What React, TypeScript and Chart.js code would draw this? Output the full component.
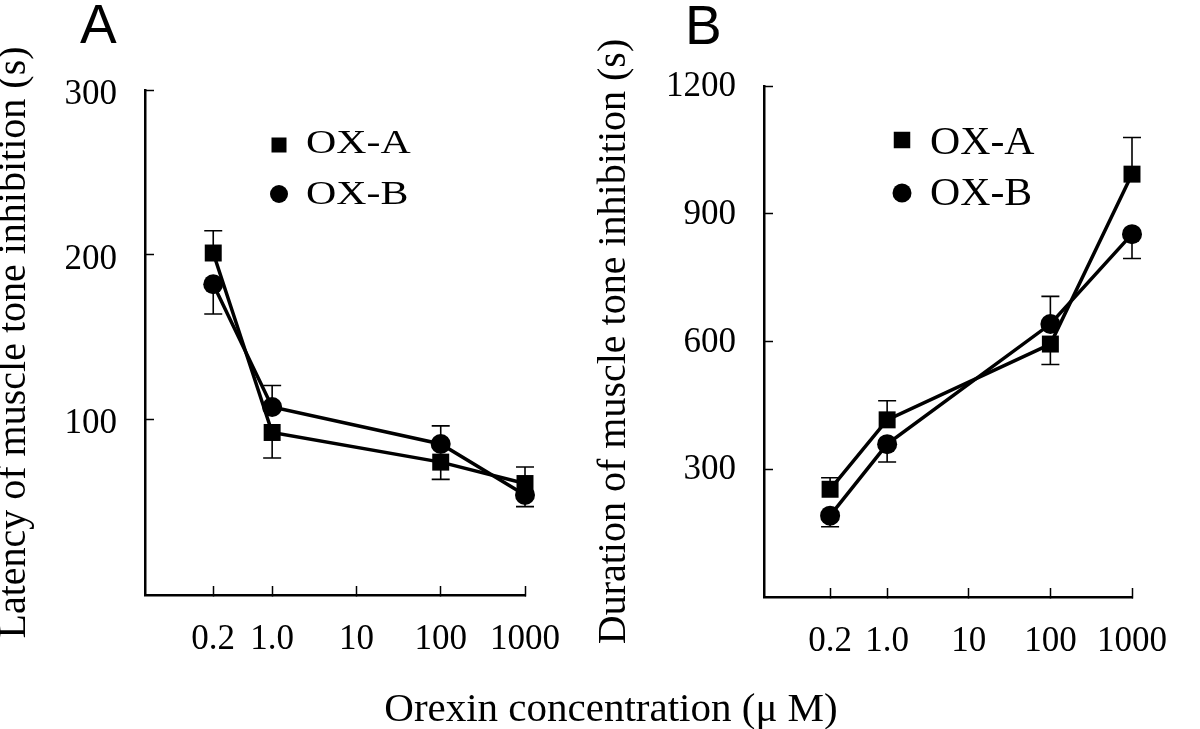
import { useEffect, useRef } from 'react';
import { Chart, registerables } from 'chart.js';

Chart.register(...registerables);

// ---- data ----
const concentrations = [0.2, 1, 100, 1000];
const xTickValues = [0.2, 1, 10, 100, 1000];
const xTickLabels = ['0.2', '1.0', '10', '100', '1000'];

const latencyOXA = [201, 92, 74, 61];
const latencyOXAErr = [13.5, 15.5, 10.5, 10];
const latencyOXB = [182, 107.5, 85, 54];
const latencyOXBErr = [18, 13, 11, 7];
const latencyTicks = [100, 200, 300];

const durationOXA = [253, 416, 594, 993];
const durationOXAErr = [27, 45, 48, 86];
const durationOXB = [191, 359, 641, 852];
const durationOXBErr = [26, 42, 65, 57];
const durationTicks = [300, 600, 900, 1200];

const seriesNames = ['OX-A', 'OX-B'];
const panelLetters = ['A', 'B'];
const yTitles = ['Latency of muscle tone inhibition (s)', 'Duration of muscle tone inhibition (s)'];
const xTitle = 'Orexin concentration (\u03bc M)';

const SERIF = "'Liberation Serif', 'Times New Roman', serif";
const SANS = "'Liberation Sans', Arial, sans-serif";

type Panel = {
  letter: string;
  letterX: number;
  letterY: number;
  yTitle: string;
  a: number[];
  aErr: number[];
  b: number[];
  bErr: number[];
  yTicks: number[];
  yMin: number;
  yMax: number;
  padding: { left: number; top: number; right: number; bottom: number };
  yWidth: number;
  xHeight: number;
  labelOffset: number;
  legendX: number;
  legendTextX: number;
  legendRows: number[];
  legendMarkerRows: number[];
  legendFont: number;
  legendScaleX: number;
  squareSize: number;
  circleR: number;
  drawXTitle: boolean;
};

const makeErrorPlugin = () => ({
  id: 'errorBars',
  afterDatasetsDraw(chart: any) {
    const { ctx, scales } = chart;
    const xs = scales.x;
    const ys = scales.y;
    const sets = chart.data.datasets;
    ctx.save();
    ctx.strokeStyle = '#000';
    ctx.lineWidth = 1.6;
    sets.forEach((ds: any, di: number) => {
      const other = sets[1 - di];
      ds.data.forEach((pt: any, i: number) => {
        const err = ds.errors[i];
        const up = pt.y >= other.data[i].y;
        const x = xs.getPixelForValue(pt.x);
        const y0 = ys.getPixelForValue(pt.y);
        const y1 = ys.getPixelForValue(up ? pt.y + err : pt.y - err);
        ctx.beginPath();
        ctx.moveTo(x, y0);
        ctx.lineTo(x, y1);
        ctx.moveTo(x - 9, y1);
        ctx.lineTo(x + 9, y1);
        ctx.stroke();
      });
    });
    ctx.restore();
  },
});

const makeDecorPlugin = (p: Panel) => ({
  id: 'decor',
  afterDraw(chart: any) {
    const ctx = chart.ctx;
    ctx.save();
    ctx.fillStyle = '#000';
    ctx.textAlign = 'left';
    ctx.textBaseline = 'alphabetic';
    ctx.font = `55px ${SANS}`;
    ctx.fillText(p.letter, p.letterX, p.letterY);
    // legend
    seriesNames.forEach((name, i) => {
      const my = p.legendMarkerRows[i];
      ctx.beginPath();
      if (i === 0) {
        const s = p.squareSize;
        ctx.rect(p.legendX - s / 2, my - s / 2, s, s);
      } else {
        ctx.arc(p.legendX, my, p.circleR, 0, Math.PI * 2);
      }
      ctx.fill();
      ctx.save();
      ctx.translate(p.legendTextX, p.legendRows[i]);
      ctx.scale(p.legendScaleX, 1);
      ctx.font = `${p.legendFont}px ${SERIF}`;
      ctx.fillText(name, 0, 0);
      ctx.restore();
    });
    if (p.drawXTitle) {
      ctx.font = `41px ${SERIF}`;
      ctx.textAlign = 'center';
      ctx.fillText(xTitle, 611, 721);
    }
    ctx.restore();
  },
});

const makeConfig = (p: Panel): any => ({
  type: 'line',
  data: {
    datasets: [
      {
        label: seriesNames[0],
        data: concentrations.map((c, i) => ({ x: c, y: p.a[i] })),
        errors: p.aErr,
        borderColor: '#000',
        borderWidth: 3.5,
        pointStyle: 'rect',
        pointRadius: 12,
        pointBackgroundColor: '#000',
        pointBorderColor: '#000',
        pointBorderWidth: 0,
        fill: false,
        tension: 0,
        clip: false,
      },
      {
        label: seriesNames[1],
        data: concentrations.map((c, i) => ({ x: c, y: p.b[i] })),
        errors: p.bErr,
        borderColor: '#000',
        borderWidth: 3.5,
        pointStyle: 'circle',
        pointRadius: 10,
        pointBackgroundColor: '#000',
        pointBorderColor: '#000',
        pointBorderWidth: 0,
        fill: false,
        tension: 0,
        clip: false,
      },
    ],
  },
  options: {
    responsive: false,
    animation: false,
    events: [],
    layout: { padding: p.padding },
    plugins: { legend: { display: false }, tooltip: { enabled: false } },
    scales: {
      x: {
        type: 'logarithmic',
        min: 0.031,
        max: 1000,
        bounds: 'data',
        afterBuildTicks: (scale: any) => {
          scale.ticks = xTickValues.map((v) => ({ value: v }));
        },
        afterFit: (scale: any) => {
          scale.height = p.xHeight;
        },
        grid: {
          display: true,
          drawOnChartArea: false,
          drawTicks: true,
          tickLength: -9,
          tickColor: '#000',
          tickWidth: 1.5,
        },
        border: { display: true, color: '#000', width: 2.5 },
        ticks: {
          color: '#000',
          font: { family: SERIF, size: 35 },
          padding: 33,
          autoSkip: false,
          maxRotation: 0,
          minRotation: 0,
          callback: (_v: any, i: number) => xTickLabels[i],
        },
      },
      y: {
        type: 'linear',
        min: p.yMin,
        max: p.yMax,
        bounds: 'data',
        afterBuildTicks: (scale: any) => {
          scale.ticks = p.yTicks.map((v) => ({ value: v }));
        },
        afterFit: (scale: any) => {
          scale.width = p.yWidth;
        },
        grid: {
          display: true,
          drawOnChartArea: false,
          drawTicks: true,
          tickLength: -9,
          tickColor: '#000',
          tickWidth: 1.5,
        },
        border: { display: true, color: '#000', width: 2.5 },
        ticks: {
          color: '#000',
          font: { family: SERIF, size: 35 },
          padding: 37,
          labelOffset: p.labelOffset,
          callback: (v: any) => String(v),
        },
        title: {
          display: true,
          text: p.yTitle,
          color: '#000',
          font: { family: SERIF, size: 40, lineHeight: 0.7 },
          padding: 0,
        },
      },
    },
  },
  plugins: [makeErrorPlugin(), makeDecorPlugin(p)],
});

const panelA: Panel = {
  letter: panelLetters[0],
  letterX: 80,
  letterY: 43,
  yTitle: yTitles[0],
  a: latencyOXA,
  aErr: latencyOXAErr,
  b: latencyOXB,
  bErr: latencyOXBErr,
  yTicks: latencyTicks,
  yMin: -6.7,
  yMax: 300,
  padding: { left: 0, top: 90, right: 675, bottom: 0 },
  yWidth: 145,
  xHeight: 134,
  labelOffset: 5,
  legendX: 279,
  legendTextX: 306,
  legendRows: [153, 204],
  legendMarkerRows: [145, 194],
  legendFont: 33,
  legendScaleX: 1.27,
  squareSize: 15,
  circleR: 9,
  drawXTitle: true,
};

const panelB: Panel = {
  letter: panelLetters[1],
  letterX: 685,
  letterY: 44,
  yTitle: yTitles[1],
  a: durationOXA,
  aErr: durationOXAErr,
  b: durationOXB,
  bErr: durationOXBErr,
  yTicks: durationTicks,
  yMin: 0,
  yMax: 1200,
  padding: { left: 600, top: 86, right: 50, bottom: 0 },
  yWidth: 164,
  xHeight: 132,
  labelOffset: 1,
  legendX: 902,
  legendTextX: 930,
  legendRows: [154, 205],
  legendMarkerRows: [140, 193],
  legendFont: 41,
  legendScaleX: 1.02,
  squareSize: 16.5,
  circleR: 9.5,
  drawXTitle: false,
};

export default function App() {
  const refA = useRef<HTMLCanvasElement>(null);
  const refB = useRef<HTMLCanvasElement>(null);
  useEffect(() => {
    const a = new Chart(refA.current as HTMLCanvasElement, makeConfig(panelA));
    const b = new Chart(refB.current as HTMLCanvasElement, makeConfig(panelB));
    return () => {
      a.destroy();
      b.destroy();
    };
  }, []);
  return (
    <div style={{ position: 'absolute', left: 0, top: 0, width: 1200, height: 729, background: '#fff' }}>
      <canvas ref={refA} width={1200} height={729} style={{ position: 'absolute', left: 0, top: 0 }} />
      <canvas ref={refB} width={1200} height={729} style={{ position: 'absolute', left: 0, top: 0 }} />
    </div>
  );
}
